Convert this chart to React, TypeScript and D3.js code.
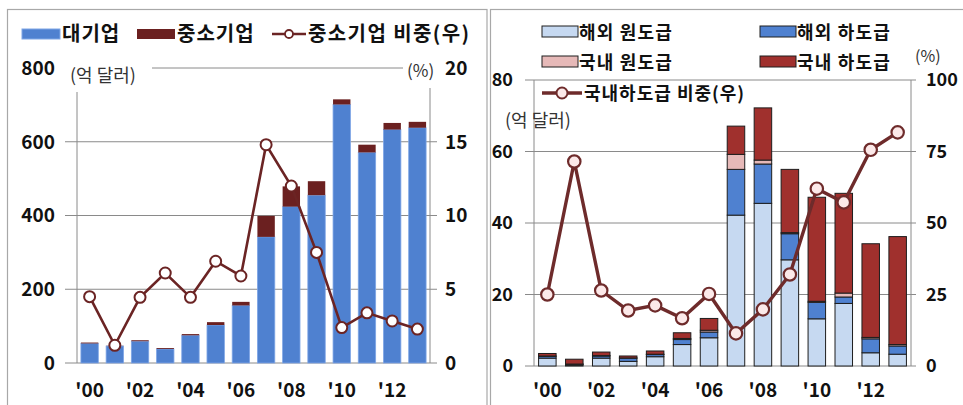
import React from "react";
import * as d3 from "d3";

const years = ["00", "01", "02", "03", "04", "05", "06", "07", "08", "09", "10", "11", "12", "13"];
const xTickYears = ["00", "02", "04", "06", "08", "10", "12"];

// left: 대기업 / 중소기업 (억 달러), 중소기업 비중 (%)
const largeFirm = [53, 46, 59, 38, 75, 103, 156, 342, 424, 455, 701, 571, 633, 638];
const smallFirm = [2.5, 0.6, 2.7, 2.4, 3.4, 7.8, 9.8, 57, 55, 38, 14, 21, 18, 16];
const smallShare = [4.5, 1.2, 4.45, 6.1, 4.45, 6.9, 5.9, 14.8, 12.0, 7.5, 2.4, 3.4, 2.85, 2.3];
const leftTicks = [0, 200, 400, 600, 800];
const leftRightTicks = [0, 5, 10, 15, 20];

// right: 해외/국내 원도급·하도급 (억 달러), 국내하도급 비중 (%)
const ovPrime = [2.2, 0.3, 2.2, 1.3, 2.6, 6.0, 7.9, 42.2, 45.5, 29.7, 13.2, 17.5, 3.7, 3.3];
const ovSub = [0.5, 0.2, 0.6, 0.9, 0.6, 1.4, 1.6, 12.8, 11.0, 7.3, 4.6, 1.8, 3.9, 2.3];
const domPrime = [0.1, 0.05, 0.1, 0.05, 0.1, 0.3, 0.5, 4.2, 1.1, 0.3, 0.3, 1.1, 0.4, 0.4];
const domSub = [0.7, 1.35, 1.0, 0.55, 0.9, 1.6, 3.3, 7.9, 14.6, 17.7, 29.1, 27.9, 26.2, 30.2];
const domSubShare = [25, 71.5, 26.4, 19.4, 21.2, 16.7, 25.2, 11.4, 19.8, 32, 62, 57.2, 75.6, 81.7];
const rightTicks = [0, 20, 40, 60, 80];
const rightRightTicks = [0, 25, 50, 75, 100];

const FONT = "'Noto Sans CJK KR', 'Noto Sans', sans-serif";
const GRID = "#8a8a8a";

const LeftChart = () => {
  const x = d3.scaleBand<string>().domain(years).range([77, 430]).paddingInner(0.31).paddingOuter(0.155);
  const y = d3.scaleLinear().domain([0, 800]).range([363, 68]);
  const y2 = d3.scaleLinear().domain([0, 20]).range([363, 68]);
  const line = d3
    .line<number>()
    .x((_, i) => (x(years[i]) as number) + x.bandwidth() / 2)
    .y((d) => y2(d));
  return (
    <g>
      {leftTicks.map((t) => (
        <g key={t}>
          <line x1={65} x2={437} y1={y(t)} y2={y(t)} stroke={GRID} strokeWidth={1} />
          <text x={55} y={y(t)} dy="0.36em" textAnchor="end" fontWeight="bold" fontSize={19} fill="#111">
            {t}
          </text>
        </g>
      ))}
      {leftRightTicks.map((t) => (
        <text key={t} x={445} y={y2(t)} dy="0.36em" fontWeight="bold" fontSize={19} fill="#111">
          {t}
        </text>
      ))}
      <line x1={77} x2={77} y1={68} y2={363} stroke={GRID} />
      <line x1={430} x2={430} y1={68} y2={363} stroke={GRID} />
      <rect x={62} y={50} width={90} height={42} fill="#fff" />
      <rect x={403} y={50} width={34} height={38} fill="#fff" />
      <text x={70} y={82} fontSize={18} fill="#333">(억 달러)</text>
      <text x={407} y={77} fontSize={17} fill="#333">(%)</text>
      {years.map((yr, i) => (
        <g key={yr}>
          <rect
            x={x(yr)}
            y={y(largeFirm[i])}
            width={x.bandwidth()}
            height={y(0) - y(largeFirm[i])}
            fill="#4F81D0"
            stroke="#7FA6E6"
            strokeWidth={0.8}
          />
          <rect
            x={x(yr)}
            y={y(largeFirm[i] + smallFirm[i])}
            width={x.bandwidth()}
            height={y(largeFirm[i]) - y(largeFirm[i] + smallFirm[i])}
            fill="#6B2020"
          />
        </g>
      ))}
      <path d={line(smallShare) || ""} fill="none" stroke="#6B2424" strokeWidth={2.6} />
      {smallShare.map((v, i) => (
        <circle
          key={i}
          cx={(x(years[i]) as number) + x.bandwidth() / 2}
          cy={y2(v)}
          r={5.5}
          fill="#fff"
          stroke="#6B2424"
          strokeWidth={2}
        />
      ))}
      {xTickYears.map((yr) => (
        <text
          key={yr}
          x={(x(yr) as number) + x.bandwidth() / 2}
          y={397}
          textAnchor="middle"
          fontWeight="bold"
          fontSize={19}
          fill="#111"
        >
          {"'" + yr}
        </text>
      ))}
      {/* legend */}
      <rect x={22} y={29} width={38} height={10} fill="#4F81D0" stroke="#7FA6E6" />
      <text x={62} y={41} fontSize={20} fontWeight={600} letterSpacing={1} fill="#111">대기업</text>
      <rect x={137} y={29} width={38} height={10} fill="#6B2020" />
      <text x={177} y={41} fontSize={20} fontWeight={600} letterSpacing={1} fill="#111">중소기업</text>
      <line x1={272} x2={306} y1={34} y2={34} stroke="#6B2424" strokeWidth={2.6} />
      <circle cx={289} cy={34} r={4} fill="#fff" stroke="#6B2424" strokeWidth={1.8} />
      <text x={308} y={41} fontSize={20} fontWeight={600} letterSpacing={1.4} fill="#111">중소기업 비중(우)</text>
    </g>
  );
};

const RightChart = () => {
  const x = d3.scaleBand<string>().domain(years).range([534, 911]).paddingInner(0.35).paddingOuter(0.17);
  const y = d3.scaleLinear().domain([0, 80]).range([366, 80]);
  const y2 = d3.scaleLinear().domain([0, 100]).range([366, 80]);
  const series = [
    { key: "ovPrime", values: ovPrime, color: "#C6D9F1" },
    { key: "ovSub", values: ovSub, color: "#4F81D0" },
    { key: "domPrime", values: domPrime, color: "#E6B9B8" },
    { key: "domSub", values: domSub, color: "#A0302D" },
  ];
  const table = years.map((yr, i) => {
    const row: Record<string, number | string> = { year: yr };
    series.forEach((s) => (row[s.key] = s.values[i]));
    return row;
  });
  const stack = d3.stack<Record<string, number | string>>().keys(series.map((s) => s.key))(table as any);
  const line = d3
    .line<number>()
    .x((_, i) => (x(years[i]) as number) + x.bandwidth() / 2)
    .y((d) => y2(d));
  return (
    <g>
      {rightTicks.map((t) => (
        <g key={t}>
          <line x1={525} x2={916} y1={y(t)} y2={y(t)} stroke={GRID} strokeWidth={1} />
          <text x={513} y={y(t)} dy="0.36em" textAnchor="end" fontWeight="bold" fontSize={18} fill="#111">
            {t}
          </text>
        </g>
      ))}
      {rightRightTicks.map((t) => (
        <text key={t} x={926} y={y2(t)} dy="0.36em" fontWeight="bold" fontSize={18} fill="#111">
          {t}
        </text>
      ))}
      <line x1={534} x2={534} y1={80} y2={366} stroke={GRID} />
      <line x1={911} x2={911} y1={80} y2={366} stroke={GRID} />
      <text x={915} y={62} fontSize={16} fill="#333">(%)</text>
      <text x={505} y={127} fontSize={18} fill="#333">(억 달러)</text>
      {stack.map((layer, li) =>
        layer.map((d, i) => (
          <rect
            key={series[li].key + i}
            x={x(years[i])}
            y={y(d[1])}
            width={x.bandwidth()}
            height={Math.max(0, y(d[0]) - y(d[1]))}
            fill={series[li].color}
            stroke="#1e1e1e"
            strokeWidth={1}
          />
        ))
      )}
      <path d={line(domSubShare) || ""} fill="none" stroke="#6E2B2B" strokeWidth={3.4} />
      {domSubShare.map((v, i) => (
        <circle
          key={i}
          cx={(x(years[i]) as number) + x.bandwidth() / 2}
          cy={y2(v)}
          r={6.2}
          fill="#FCE9E9"
          stroke="#6E2B2B"
          strokeWidth={2.2}
        />
      ))}
      {xTickYears.map((yr) => (
        <text
          key={yr}
          x={(x(yr) as number) + x.bandwidth() / 2}
          y={397}
          textAnchor="middle"
          fontWeight="bold"
          fontSize={19}
          fill="#111"
        >
          {"'" + yr}
        </text>
      ))}
      {/* legend */}
      <rect x={542} y={26} width={36} height={11} fill="#C6D9F1" stroke="#1e1e1e" />
      <text x={579} y={39} fontSize={18} fontWeight={600} letterSpacing={1.2} fill="#111">해외 원도급</text>
      <rect x={760} y={26} width={36} height={11} fill="#4F81D0" stroke="#1e1e1e" />
      <text x={797} y={39} fontSize={18} fontWeight={600} letterSpacing={1.2} fill="#111">해외 하도급</text>
      <rect x={542} y={56} width={36} height={11} fill="#E6B9B8" stroke="#1e1e1e" />
      <text x={579} y={69} fontSize={18} fontWeight={600} letterSpacing={1.2} fill="#111">국내 원도급</text>
      <rect x={760} y={56} width={36} height={11} fill="#A0302D" stroke="#1e1e1e" />
      <text x={797} y={69} fontSize={18} fontWeight={600} letterSpacing={1.2} fill="#111">국내 하도급</text>
      <line x1={542} x2={582} y1={93} y2={93} stroke="#6E2B2B" strokeWidth={3.4} />
      <circle cx={562} cy={93} r={5.5} fill="#FCE9E9" stroke="#6E2B2B" strokeWidth={2} />
      <text x={584} y={100} fontSize={18} fontWeight={600} letterSpacing={1} fill="#111">국내하도급 비중(우)</text>
    </g>
  );
};

export default function App() {
  return (
    <svg
      width={963}
      height={405}
      viewBox="0 0 963 405"
      style={{ position: "absolute", left: 0, top: 0, background: "#fff" }}
      fontFamily={FONT}
    >
      <rect x={0} y={0} width={963} height={405} fill="#fff" />
      <rect x={7.5} y={9.5} width={479.5} height={420} fill="none" stroke="#a8a8a8" strokeWidth={1.2} />
      <rect x={490.5} y={9.5} width={500} height={420} fill="none" stroke="#a8a8a8" strokeWidth={1.2} />
      <LeftChart />
      <RightChart />
    </svg>
  );
}
